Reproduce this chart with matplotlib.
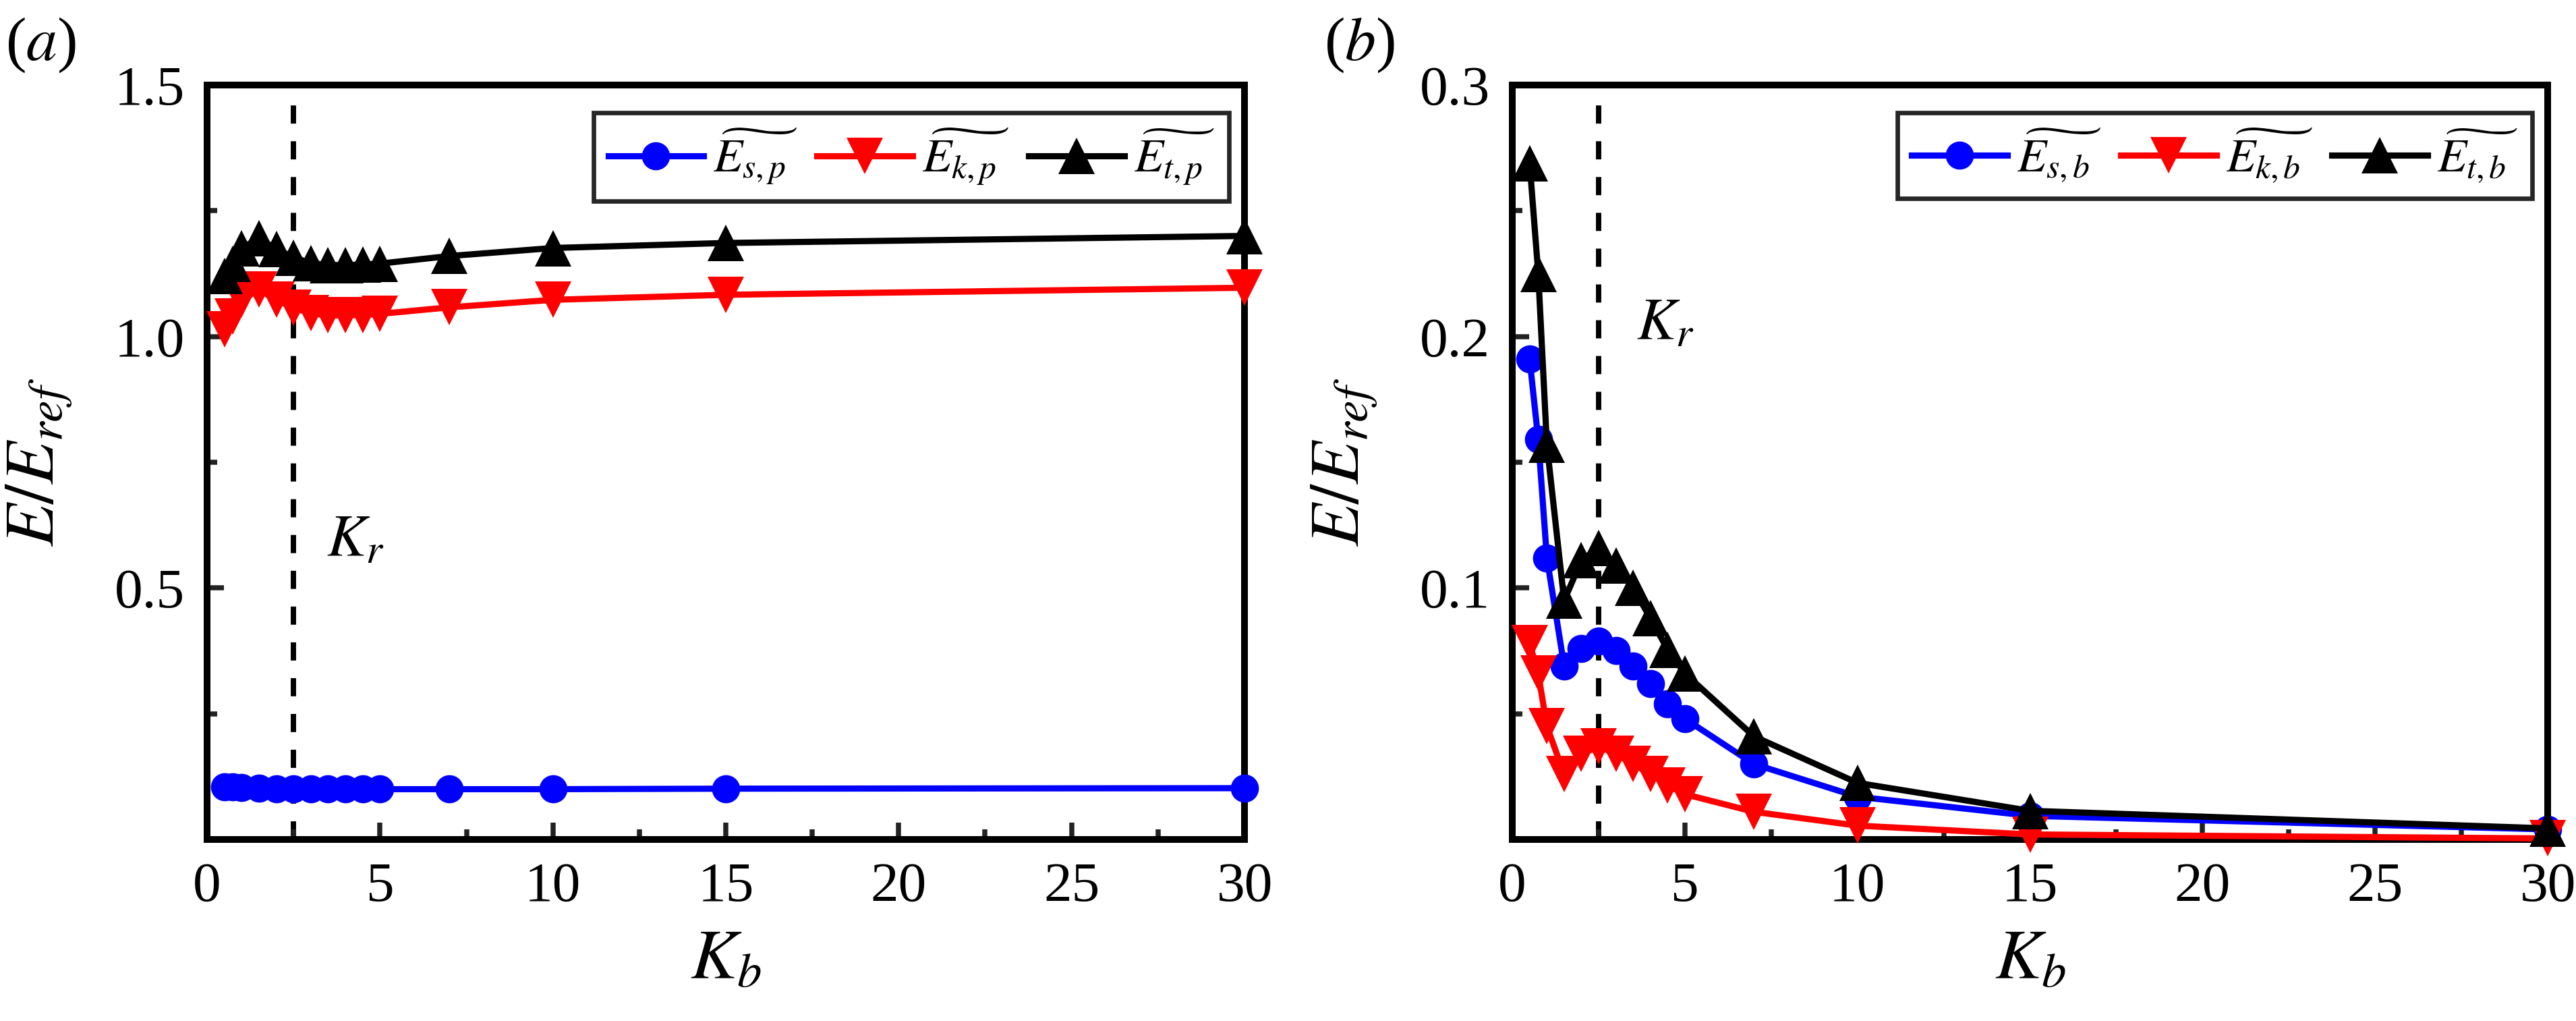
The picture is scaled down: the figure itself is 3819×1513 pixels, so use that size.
"""Energy ratio vs K_b for plate (a) and beam (b) cases"""
import matplotlib
matplotlib.use("Agg")
from matplotlib import pyplot as plt
from matplotlib.ticker import MultipleLocator

Kb = [0.5, 0.75, 1, 1.5, 2, 2.5, 3, 3.5, 4, 4.5, 5, 7, 10, 15, 30]
Kr = 2.5

# panel (a)
Es_p = [0.105, 0.104, 0.103, 0.102, 0.101, 0.100, 0.100, 0.100, 0.100,
        0.100, 0.100, 0.100, 0.100, 0.101, 0.102]
Ek_p = [1.015, 1.040, 1.073, 1.093, 1.073, 1.057, 1.046, 1.042, 1.042,
        1.043, 1.045, 1.058, 1.073, 1.083, 1.097]
Et_p = [1.120, 1.144, 1.176, 1.195, 1.174, 1.157, 1.146, 1.142, 1.142,
        1.143, 1.145, 1.160, 1.176, 1.186, 1.200]

# panel (b)
Es_b = [0.191, 0.159, 0.112, 0.069, 0.076, 0.079, 0.075, 0.069, 0.062,
        0.054, 0.048, 0.030, 0.017, 0.0094, 0.004]
Ek_b = [0.078, 0.066, 0.045, 0.026, 0.034, 0.037, 0.034, 0.030, 0.026,
        0.0215, 0.018, 0.011, 0.0055, 0.002, 0.0004]
Et_b = [0.269, 0.225, 0.157, 0.095, 0.111, 0.116, 0.109, 0.100, 0.088,
        0.0755, 0.066, 0.041, 0.0225, 0.0114, 0.0044]

plt.rcParams["font.family"] = "serif"
plt.rcParams["font.serif"] = ["Liberation Serif", "DejaVu Serif"]
plt.rcParams["mathtext.fontset"] = "stix"

fig = plt.figure(figsize=(3819 / 300, 1513 / 300), dpi=300)
ax_a = fig.add_axes([0.0804, 0.1778, 0.4027, 0.7389])
ax_b = fig.add_axes([0.5871, 0.1778, 0.4019, 0.7389])

panels = [
    (ax_a, "p", (Es_p, Ek_p, Et_p), 1.5, 0.5, 0.25, (3.45, 0.565)),
    (ax_b, "b", (Es_b, Ek_b, Et_b), 0.3, 0.1, 0.05, (3.6, 0.199)),
]

for ax, sub, (es, ek, et), ymax, ymaj, ymin, kr_pos in panels:
    ax.axvline(Kr, color="black", lw=1.9, dashes=(3.4, 3.3), zorder=1)

    ax.plot(Kb, es, color="#0000ff", lw=2.2, marker="o", ms=10, mew=0,
            clip_on=False, zorder=3, label=r"$\widetilde{E_{s,%s}}$" % sub)
    ax.plot(Kb, ek, color="#ff0000", lw=2.2, marker="v", ms=13, mew=0,
            clip_on=False, zorder=4, label=r"$\widetilde{E_{k,%s}}$" % sub)
    ax.plot(Kb, et, color="black", lw=2.2, marker="^", ms=13, mew=0,
            clip_on=False, zorder=5, label=r"$\widetilde{E_{t,%s}}$" % sub)

    n = int(round(ymax / ymaj))
    ax.set_xlim(0, 30)
    ax.set_ylim(0, ymax)
    ax.set_xticks(range(0, 31, 5))
    ax.xaxis.set_minor_locator(MultipleLocator(2.5))
    ax.set_yticks([ymaj * i for i in range(1, n + 1)])
    ax.set_yticklabels([f"{ymaj * i:.1f}" for i in range(1, n + 1)])
    ax.set_yticks([ymin * (2 * i + 1) for i in range(n)], minor=True)

    ax.tick_params(which="both", direction="in", top=False, right=False,
                   labelsize=20, pad=8, color="#222222")
    ax.tick_params(which="major", length=6, width=1.8)
    ax.tick_params(which="minor", length=3.5, width=1.8)
    for sp in ax.spines.values():
        sp.set_linewidth(2.4)

    ax.set_xlabel(r"$K_b$", fontsize=25, labelpad=6)
    ax.set_ylabel(r"$E/E_{ref}$", fontsize=25, labelpad=14)

    ax.text(kr_pos[0], kr_pos[1], r"$K_r$", fontsize=21, ha="left", va="baseline")

    leg = ax.legend(loc="upper right", bbox_to_anchor=(0.985, 0.963), ncol=3,
                    fontsize=17, handlelength=2.0, handletextpad=0.2,
                    columnspacing=0.4, borderpad=0.3, borderaxespad=0,
                    fancybox=False, framealpha=1)
    leg.get_frame().set_edgecolor("#262626")
    leg.get_frame().set_linewidth(1.6)

fig.text(0.002, 0.985, r"($\mathit{a}$)", fontsize=22, ha="left", va="top")
fig.text(0.514, 0.985, r"($\mathit{b}$)", fontsize=22, ha="left", va="top")

fig.savefig("out.png", dpi=300)
